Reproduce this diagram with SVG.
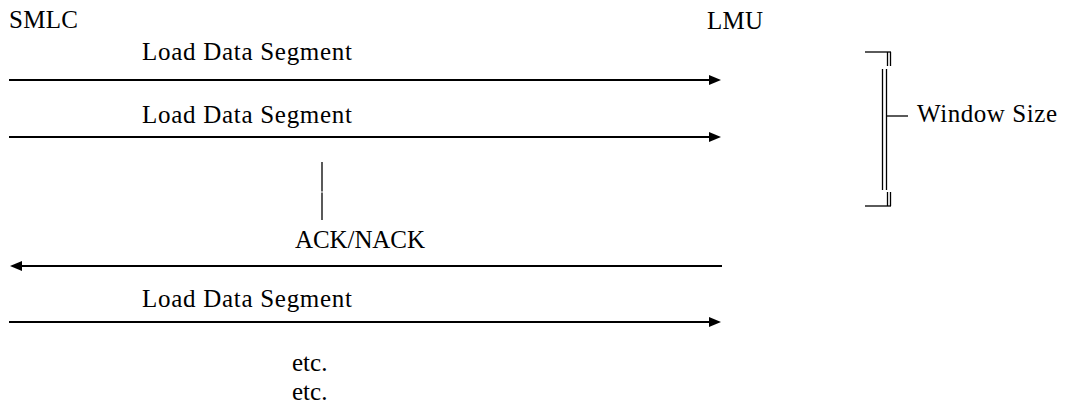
<svg xmlns="http://www.w3.org/2000/svg" width="1065" height="403" viewBox="0 0 1065 403">
<style>
  text { font-family: "Liberation Serif", "Times New Roman", serif; font-size: 25px; fill: #000; }
  .msg { stroke: #000; stroke-width: 2; fill: none; }
  .thin { stroke: #000; stroke-width: 1.3; fill: none; }
</style>
<defs>
  <marker id="arrow" viewBox="0 0 12 10" refX="0" refY="5" markerWidth="12" markerHeight="10" markerUnits="userSpaceOnUse" orient="auto">
    <path d="M0,0 L12,5 L0,10 z" fill="#000"/>
  </marker>
</defs>
<rect width="1065" height="403" fill="#fff"/>
<g id="node-smlc"><text x="9" y="28" textLength="69" lengthAdjust="spacing">SMLC</text></g>
<g id="node-lmu"><text x="707" y="29" textLength="56" lengthAdjust="spacing">LMU</text></g>
<g id="connectors">
  <line class="msg" x1="9" y1="80" x2="709" y2="80" marker-end="url(#arrow)"/>
  <line class="msg" x1="9" y1="137" x2="709" y2="137" marker-end="url(#arrow)"/>
  <line class="msg" x1="722" y1="266" x2="22" y2="266" marker-end="url(#arrow)"/>
  <line class="msg" x1="9" y1="322" x2="709" y2="322" marker-end="url(#arrow)"/>
  <line class="thin" x1="322" y1="162" x2="322" y2="191.5"/>
  <line class="thin" x1="322" y1="192.5" x2="322" y2="220"/>
</g>
<g id="labels">
  <text x="142" y="60" textLength="210" lengthAdjust="spacing">Load Data Segment</text>
  <text x="142" y="123" textLength="210" lengthAdjust="spacing">Load Data Segment</text>
  <text x="295" y="248" textLength="130" lengthAdjust="spacing">ACK/NACK</text>
  <text x="142" y="307" textLength="210" lengthAdjust="spacing">Load Data Segment</text>
  <text x="292" y="371">etc.</text>
  <text x="292" y="400">etc.</text>
</g>
<g id="window-size">
  <line class="thin" x1="865" y1="52" x2="891" y2="52"/>
  <line class="thin" x1="887.5" y1="52" x2="887.5" y2="66"/>
  <line class="thin" x1="890.5" y1="52" x2="890.5" y2="66"/>
  <line class="thin" x1="882.5" y1="69" x2="882.5" y2="190"/>
  <line class="thin" x1="886.5" y1="69" x2="886.5" y2="190"/>
  <line class="thin" x1="887.5" y1="192" x2="887.5" y2="206"/>
  <line class="thin" x1="890.5" y1="192" x2="890.5" y2="206"/>
  <line class="thin" x1="865" y1="206" x2="891" y2="206"/>
  <line class="thin" x1="887" y1="116" x2="908" y2="116"/>
  <text x="917" y="122" textLength="140" lengthAdjust="spacing">Window Size</text>
</g>
</svg>
